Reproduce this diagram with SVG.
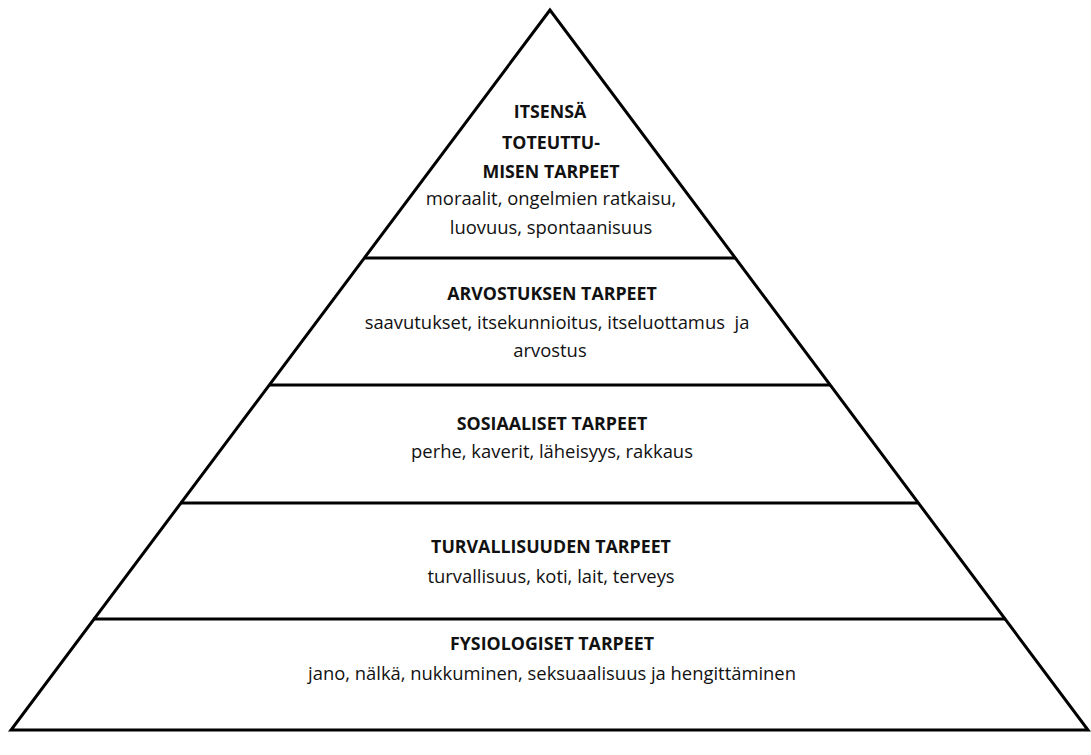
<svg xmlns="http://www.w3.org/2000/svg" width="1091" height="755" viewBox="0 0 1091 755">
  <style>
    .edge { fill: none; stroke: #000; stroke-width: 3; stroke-linejoin: miter; }
    .tier { stroke: #000; stroke-width: 3; }
    text { font-family: "Open Sans", "Liberation Sans", Arial, sans-serif; font-size: 18.4px; fill: #111; text-anchor: middle; }
    .head { font-weight: bold; font-size: 17.8px; }
  </style>
  <rect width="1091" height="755" fill="#fff"/>
  <!-- outline and tier dividers -->
  <g id="connectors">
    <polygon class="edge" points="550,10 11,730 1088,730"/>
    <line class="tier" x1="364" y1="258" x2="736" y2="258"/>
    <line class="tier" x1="269" y1="385" x2="831" y2="385"/>
    <line class="tier" x1="180" y1="503" x2="919" y2="503"/>
    <line class="tier" x1="93" y1="619" x2="1006" y2="619"/>
  </g>
  <g id="tier-self-actualization">
    <text class="head" x="550" y="118">ITSENSÄ</text>
    <text class="head" x="551" y="149">TOTEUTTU-</text>
    <text class="head" x="551" y="178">MISEN TARPEET</text>
    <text x="551" y="205">moraalit, ongelmien ratkaisu,</text>
    <text x="551" y="234">luovuus, spontaanisuus</text>
  </g>
  <g id="tier-esteem">
    <text class="head" x="552" y="300">ARVOSTUKSEN TARPEET</text>
    <text x="557" y="329" xml:space="preserve">saavutukset, itsekunnioitus, itseluottamus  ja</text>
    <text x="550" y="357">arvostus</text>
  </g>
  <g id="tier-social">
    <text class="head" x="552" y="430">SOSIAALISET TARPEET</text>
    <text x="552" y="458">perhe, kaverit, läheisyys, rakkaus</text>
  </g>
  <g id="tier-safety">
    <text class="head" x="551" y="553">TURVALLISUUDEN TARPEET</text>
    <text x="551" y="583">turvallisuus, koti, lait, terveys</text>
  </g>
  <g id="tier-physiological">
    <text class="head" x="552" y="650">FYSIOLOGISET TARPEET</text>
    <text x="552" y="680">jano, nälkä, nukkuminen, seksuaalisuus ja hengittäminen</text>
  </g>
</svg>
